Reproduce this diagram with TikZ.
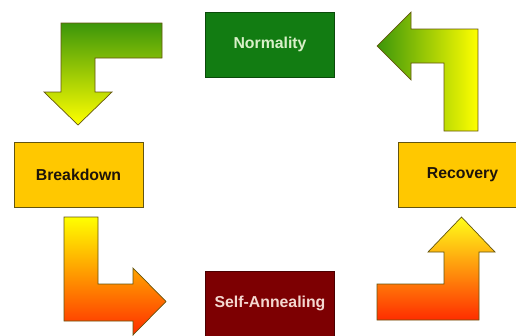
\documentclass[tikz,border=0pt]{standalone}
\usepackage{fontspec}
\setmainfont{Liberation Sans}
\usepackage{tikz}
\usetikzlibrary{positioning}

\definecolor{normgreen}{RGB}{18,124,18}
\definecolor{annealred}{RGB}{125,0,2}
\definecolor{stategold}{RGB}{255,200,0}
\definecolor{edgeolive}{RGB}{100,85,15}
\definecolor{arrowgreen}{RGB}{60,150,10}
\definecolor{arrowyellow}{RGB}{255,255,0}
\definecolor{arrowred}{RGB}{255,45,0}

\begin{document}
\begin{tikzpicture}[x=0.03cm, y=-0.03cm,
        state/.style={rectangle, draw=edgeolive, line width=0.6pt, minimum width=3.87cm, minimum height=1.95cm,
            font=\fontsize{13.5}{15}\selectfont\bfseries},
        blockarrow/.style={draw=edgeolive, line width=0.6pt, line join=miter},
        ]
        \useasboundingbox (0,0) rectangle (516,335);

        % states
        \node[state, fill=normgreen, draw=normgreen!60!black, text={rgb,255:red,216;green,240;blue,200}] (norm) at (270,44.5) {Normality};
        \node[state, fill=stategold, text=black!85!brown] (break) at (78.5,174.5) {Breakdown};
        \node[state, fill=annealred, draw=annealred!60!black, text={rgb,255:red,244;green,216;blue,208}] (anneal) at (270,303.5) {Self-Annealing};
        \node[state, fill=stategold, text=black!85!brown] (recov) at (462.5,174.5) {Recovery};

        % arrows
        \path[blockarrow, top color=arrowgreen, bottom color=arrowyellow]
            (162,23) -- (61,23) -- (61,92) -- (44,92) -- (78,125) -- (112,92) -- (95,92) -- (95,58) -- (162,58) -- cycle;
        \path[blockarrow, top color=arrowyellow, bottom color=arrowred]
            (64,217) -- (98,217) -- (98,284) -- (133,284) -- (133,268) -- (166,301.5) -- (133,335) -- (133,321) -- (64,321) -- cycle;
        \path[blockarrow, top color=arrowyellow!90!white, bottom color=arrowred]
            (461.5,217) -- (495,252) -- (479,252) -- (479,320) -- (377,320) -- (377,284) -- (444,284) -- (444,252) -- (428,252) -- cycle;
        \path[blockarrow, left color=arrowgreen, right color=arrowyellow]
            (377,46) -- (411,12) -- (411,29) -- (478,29) -- (478,131) -- (444,131) -- (444,63) -- (411,63) -- (411,80) -- cycle;

\end{tikzpicture}
\end{document}
